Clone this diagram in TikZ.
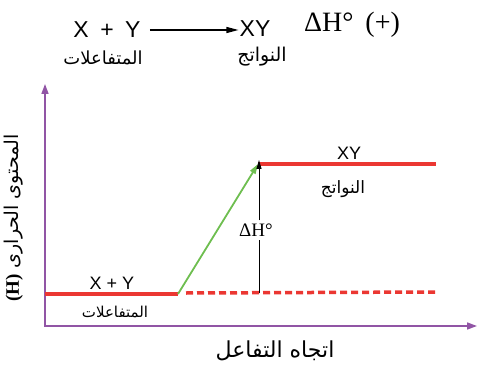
\documentclass[tikz,border=0pt]{standalone}
\usepackage{fontspec}
\usepackage{xcolor}
\usetikzlibrary{arrows.meta, positioning}
\newfontfamily\latinsans{Liberation Sans}
\newfontfamily\latinserif{Liberation Serif}
\newfontfamily\arabicfont[Script=Arabic]{DejaVu Sans}
\TeXXeTstate=1
\definecolor{axispurple}{RGB}{145, 85, 165}
\definecolor{levelred}{RGB}{235, 55, 50}
\definecolor{pathgreen}{RGB}{110, 190, 80}

\tikzset{
  axis/.style={line width=1.6pt, axispurple, -{Triangle[length=10pt,width=7pt]}},
  level/.style={line width=3.5pt, levelred},
  chem/.style={font=\latinsans\fontsize{18}{20}\selectfont, inner sep=1pt},
  arlabel/.style={font=\arabicfont\fontsize{15}{17}\selectfont, inner sep=1pt}
}

\begin{document}
\begin{tikzpicture}[x=1pt, y=-1pt]
\useasboundingbox (0,0) rectangle (478,371);

% Equation
\node[chem, font=\latinsans\fontsize{23}{25}\selectfont] (eqreact) at (107,30) {X\enspace+\enspace Y};
\node[chem, font=\latinsans\fontsize{23}{25}\selectfont] (eqprod) at (255,29) {XY};
\node[inner sep=1pt, font=\latinserif\fontsize{28}{30}\selectfont] (eqdh) at (352,25) {ΔH°\hspace{12pt}(+)};
\draw[line width=1.2pt, -{Triangle[length=12pt,width=6pt]}] (eqreact.east) ++(8,0) coordinate (eqa) -- (eqprod.west |- eqa);
\node[arlabel, font=\arabicfont\fontsize{18}{20}\selectfont] (eqreactar) at (103,58) {\beginR المتفاعلات\endR};
\node[arlabel, font=\arabicfont\fontsize{19}{21}\selectfont] (eqprodar) at (262,57) {\beginR النواتج\endR};

% Axes
\coordinate (origin) at (45,326);
\coordinate (ytip) at (45,84);
\coordinate (xtip) at (477,326);
\draw[axis] (origin) -- (ytip);
\draw[axis] ([xshift=-0.8pt]origin) -- (xtip);
\node[rotate=90, font=\arabicfont\fontsize{19}{21}\selectfont] (ylabel) at (14,218)
  {\beginR المحتوى الحرارى {\latinserif\bfseries\beginL(H)\endL}\endR};
\node[font=\arabicfont\fontsize{22}{24}\selectfont] (xlabel) at (275,351) {\beginR اتجاه التفاعل\endR};

% Energy levels
\coordinate (r0) at (45,294);
\coordinate (r1) at (178,294);
\coordinate (p0) at (258,164);
\coordinate (p1) at (436,164);
\coordinate (d0) at (186,293);
\coordinate (d1) at (436,292);
\coordinate (dhbase) at (259,293);
\draw[level] (r0) -- (r1);
\draw[level] (p0) -- (p1);
\draw[levelred, line width=3.5pt, dash pattern=on 7pt off 4pt] (d0) -- (d1);
\draw[pathgreen, line width=1.8pt, -{Triangle[length=10pt,width=6pt]}] (r1) -- (p0);

% Delta H
\node[fill=white, inner sep=3pt, font=\latinserif\fontsize{19}{21}\selectfont] (dh) at (256,230) {ΔH°};
\draw[line width=0.9pt] (dhbase) -- (dh.south -| dhbase);
\draw[line width=0.9pt, -{Triangle[length=9pt,width=5pt]}] (dh.north -| dhbase) -- ([yshift=4pt]p0 -| dhbase);

% Level labels
\node[chem] (reactlbl) at (112,283) {X + Y};
\node[arlabel] (reactar) at (115,312) {\beginR المتفاعلات\endR};
\node[chem] (prodlbl) at (349,153) {XY};
\node[arlabel, font=\arabicfont\fontsize{17}{19}\selectfont] (prodar) at (343,189) {\beginR النواتج\endR};

\end{tikzpicture}
\end{document}
